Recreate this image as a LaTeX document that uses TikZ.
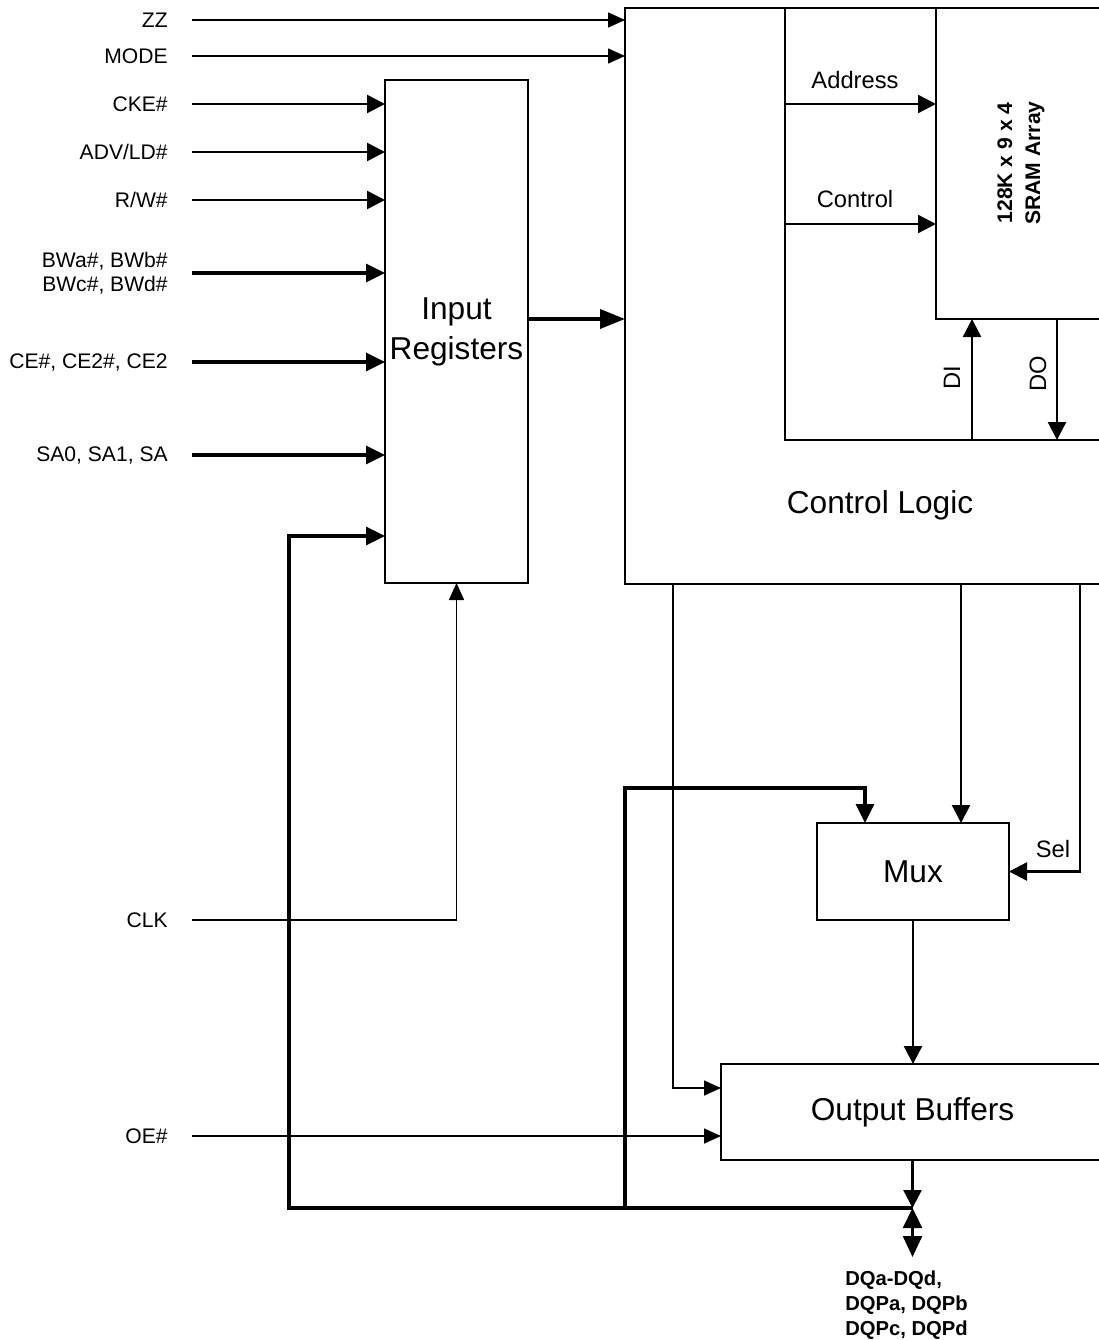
\documentclass[tikz,border=0pt]{standalone}
\usepackage{fontspec}
\setmainfont{Liberation Sans}
\usetikzlibrary{arrows.meta}
\tikzset{
  blkbox/.style    = {draw,line width=0.85pt,inner sep=0pt,outer sep=0pt,align=center,
                      font=\fontsize{18}{22.7}\selectfont},
  pinlbl/.style    = {anchor=east,inner sep=0pt,align=right,font=\fontsize{12}{13.6}\selectfont},
  sublbl/.style    = {inner sep=0pt,font=\fontsize{13.5}{16}\selectfont},
  thinsig/.style   = {-{Triangle[length=3.4mm,width=3mm]},line width=0.9pt},
  sigarr/.style    = {-{Triangle[length=3.6mm,width=3.6mm]},line width=1.35pt},
  busarr/.style    = {-{Triangle[length=3.8mm,width=3.6mm]},line width=1.9pt},
  frameline/.style = {line width=0.85pt}
}
\newcommand{\pinin}[5]{%
  \node[pinlbl] (#1) at (168,#2) {#3};
  \draw[#5] ([xshift=4.8mm]#1.east) -- (#1 -| #4.west);
}

\begin{document}
\begin{tikzpicture}[x=0.2mm,y=-0.2mm]
  \useasboundingbox (0,0) rectangle (1098,1340);
  % blocks
  \node[blkbox,minimum width=95.8mm,minimum height=115.2mm] (ctl) at (864.5,296) {};
  \node[blkbox,minimum width=33.6mm,minimum height=62.2mm] (sram) at (1020,163.5) {};
  \node[blkbox,minimum width=28.6mm,minimum height=100.6mm] (reg) at (456.5,331.5) {Input\\Registers};
  \node[blkbox,minimum width=38.4mm,minimum height=19.4mm] (mux) at (913,871.5) {Mux};
  \node[blkbox,minimum width=76.6mm,minimum height=19.2mm] (obuf) at (912.5,1112) {Output Buffers};
  \node[font=\fontsize{18}{22}\selectfont,inner sep=0pt] (ctltxt) at (880,505) {Control Logic};
  \node[rotate=90,align=center,inner sep=0pt,font=\bfseries\fontsize{12}{16}\selectfont]
       (sramtxt) at (1021,163) {128K x 9 x 4\\SRAM Array};
  \draw[frameline] (785,8) |- (1104,440);

  % pins
  \pinin{zz}{20}{ZZ}{ctl}{thinsig}
  \pinin{mode}{56}{MODE}{ctl}{thinsig}
  \pinin{cke}{104}{CKE\#}{reg}{sigarr}
  \pinin{adv}{152}{ADV/LD\#}{reg}{sigarr}
  \pinin{rw}{200}{R/W\#}{reg}{sigarr}
  \pinin{bw}{273}{BWa\#, BWb\#\\BWc\#, BWd\#}{reg}{busarr}
  \pinin{ce}{362}{CE\#, CE2\#, CE2}{reg}{busarr}
  \pinin{sa}{455}{SA0, SA1, SA}{reg}{busarr}
  \pinin{oe}{1136}{OE\#}{obuf}{thinsig}
  \node[pinlbl] (clk) at (168,920) {CLK};
  \draw[thinsig] ([xshift=4.8mm]clk.east) -| (reg.south);

  \coordinate (ro) at ([yshift=2.5mm]reg.east);
  \draw[-{Triangle[length=5mm,width=3.8mm]},line width=2.1pt] (ro) -- (ro -| ctl.west);

  % array side
  \coordinate (adr) at (785,104);
  \coordinate (ctr) at (785,224);
  \draw[sigarr] (adr) -- (adr -| sram.west);
  \draw[sigarr] (ctr) -- (ctr -| sram.west);
  \node[sublbl] (adrtxt) at (855,80) {Address};
  \node[sublbl] (ctrtxt) at (855,199) {Control};
  \coordinate (dib) at (972,440);
  \coordinate (dob) at (1057,440);
  \draw[sigarr] (dib) -- (dib |- sram.south);
  \draw[sigarr] (dob |- sram.south) -- (dob);
  \node[sublbl,rotate=90] (ditxt) at (952,378) {DI};
  \node[sublbl,rotate=90] (dotxt) at (1038,374) {DO};

  % mux and output
  \coordinate (oen)  at (673,584);
  \coordinate (sel)  at (1080,584);
  \coordinate (muxa) at ([xshift=-9.6mm]mux.north);
  \coordinate (muxb) at ([xshift=9.6mm]mux.north);
  \draw[thinsig] (oen) |- ([yshift=4.8mm]obuf.west);
  \draw[sigarr] (muxb |- ctl.south) -- (muxb);
  \draw[sigarr] (sel) |- (mux.east);
  \node[sublbl] (seltxt) at (1053,849) {Sel};
  \draw[sigarr] (mux.south) -- (mux.south |- obuf.north);

  \coordinate (dqj) at (912.5,1208);
  \coordinate (dqp) at (912.5,1257);
  \coordinate (fb)  at (289,536);
  \coordinate (fbm) at (625,788);
  \draw[busarr] (dqj) -| (fb) -- (fb -| reg.west);
  \draw[busarr] (fbm |- dqj) -- (fbm) -| (muxa);
  \draw[sigarr] (obuf.south) -- (dqj);
  \draw[{Triangle[length=4mm,width=3.8mm]}-{Triangle[length=4.2mm,width=3.8mm]},line width=1.35pt] (dqj) -- (dqp);
  \node[anchor=north west,align=left,inner sep=0pt,font=\bfseries\fontsize{11.5}{14.5}\selectfont]
       (dqtxt) at (845,1270) {DQa-DQd,\\DQPa, DQPb\\DQPc, DQPd};
\end{tikzpicture}
\end{document}
